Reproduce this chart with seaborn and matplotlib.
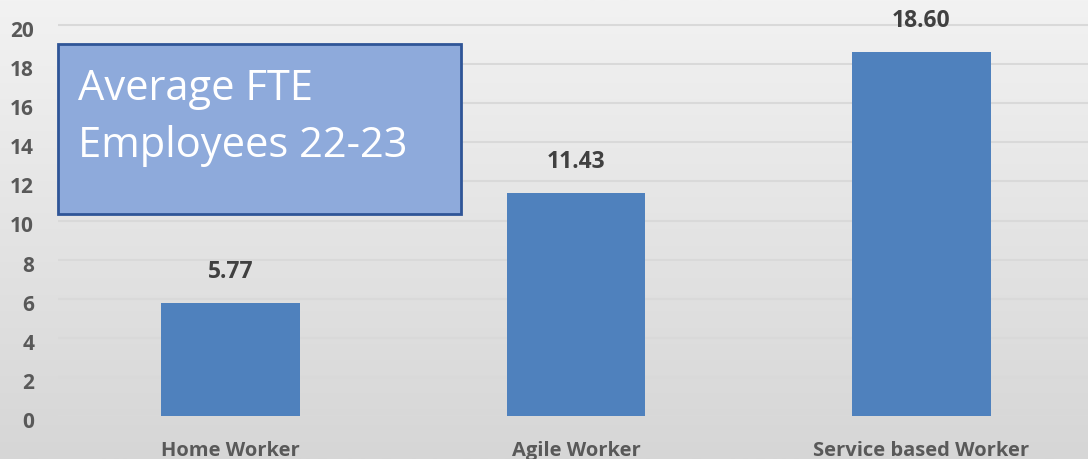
import numpy as np
import pandas as pd
import matplotlib
matplotlib.use("Agg")
import matplotlib.pyplot as plt
from matplotlib.patches import Rectangle
from matplotlib.transforms import ScaledTranslation
import seaborn as sns

categories = ["Home Worker", "Agile Worker", "Service based Worker"]
values = [5.77, 11.43, 18.60]
yticks = [0, 2, 4, 6, 8, 10, 12, 14, 16, 18, 20]
title_lines = ["Average FTE", "Employees 22-23"]

sns.set_theme(style="white")
plt.rcParams['font.family'] = ['Open Sans', 'DejaVu Sans']

W, H = 1088, 459
fig = plt.figure(figsize=(W / 100, H / 100), dpi=100)

# gradient background
bg = fig.add_axes([0, 0, 1, 1], zorder=0)
grad = np.linspace(0, 1, 256).reshape(-1, 1)
top = np.array([0xf2, 0xf2, 0xf2]) / 255
bot = np.array([0xd6, 0xd6, 0xd6]) / 255
img = top[None, None, :] * (1 - grad[:, :, None]) + bot[None, None, :] * grad[:, :, None]
bg.imshow(img, aspect='auto', extent=[0, 1, 0, 1], origin='upper')
bg.set_axis_off()

x0, x1 = 57.75, 1094.25
y0 = 416
pxu = (416 - 25) / 20
ax = fig.add_axes([x0 / W, (H - y0) / H, (x1 - x0) / W, y0 / H], zorder=1)
ax.patch.set_alpha(0)

df = pd.DataFrame({"cat": categories, "val": values})
sns.barplot(data=df, x="cat", y="val", color="#4f81bd", saturation=1,
            width=0.4, ax=ax, zorder=3, edgecolor="none", linewidth=0)

ax.set_xlim(-0.5, 2.5)
ax.set_ylim(0, y0 / pxu)
ax.set_yticks(yticks)
ax.set_yticklabels([str(t) for t in yticks])
ax.yaxis.grid(True, color="#d9d9d9", linewidth=1.5, zorder=0)
ax.set_axisbelow(True)
for s in ax.spines.values():
    s.set_visible(False)
ax.tick_params(axis='both', length=0)
ax.tick_params(axis='y', pad=17, labelsize=15, labelcolor="#595959")
ax.tick_params(axis='x', pad=18, labelsize=14.5, labelcolor="#595959")
for lab in ax.get_yticklabels() + ax.get_xticklabels():
    lab.set_fontweight('bold')
shift = ScaledTranslation(0, -4 / 100, fig.dpi_scale_trans)
for lab in ax.get_yticklabels():
    lab.set_transform(lab.get_transform() + shift)
ax.set_xlabel("")
ax.set_ylabel("")

for i, v in enumerate(values):
    ax.annotate(f"{v:.2f}", (i, v), xytext=(0, 18), textcoords="offset points",
                ha="center", va="baseline", fontsize=16.5, fontweight="bold",
                color="#404040")

# title box
fig.patches.append(Rectangle((58 / W, 1 - 214 / H), (461 - 58) / W, (214 - 44) / H,
                             transform=fig.transFigure, facecolor="#8eaadb",
                             edgecolor="#2f5597", linewidth=2, zorder=5))
fig.text(78 / W, 1 - 100 / H, title_lines[0], fontsize=30, color="white",
         va="baseline", ha="left", zorder=6)
fig.text(78 / W, 1 - 157 / H, title_lines[1], fontsize=30, color="white",
         va="baseline", ha="left", zorder=6)

fig.savefig("out.png", dpi=100)
